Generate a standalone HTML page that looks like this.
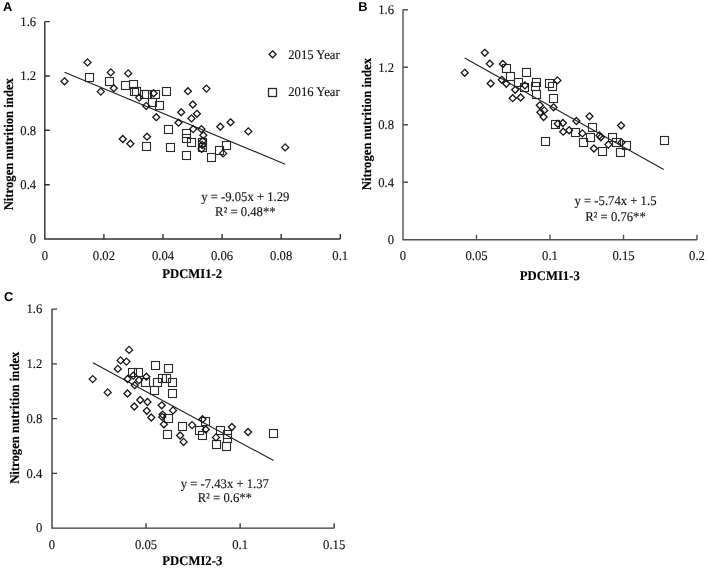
<!DOCTYPE html>
<html><head><meta charset="utf-8"><title>Nitrogen nutrition index vs PDCMI</title>
<style>
html,body{margin:0;padding:0;background:#fff;}
body{width:708px;height:569px;overflow:hidden;}
svg{display:block;will-change:transform;text-rendering:geometricPrecision;}
.s text,text.s{font-family:"Liberation Serif",serif;font-size:13.3px;fill:#111;stroke:#111;stroke-width:0.12px;}
text.b{font-family:"Liberation Serif",serif;font-weight:bold;font-size:13.3px;fill:#000;stroke:#000;stroke-width:0.15px;}
text.L{font-family:"Liberation Sans",sans-serif;font-weight:bold;font-size:12.8px;fill:#000;}
</style></head>
<body>
<svg width="708" height="569" viewBox="0 0 708 569">
<rect width="708" height="569" fill="#fff"/>
<path d="M44.8 21.6V239.05H340.3M44.8 184.69h5M44.8 130.32h5M44.8 75.96h5M44.8 21.6h5M103.9 239.05v-5M163 239.05v-5M222.1 239.05v-5M281.2 239.05v-5M340.3 239.05v-5" fill="none" stroke="#303030" stroke-width="1.4"/>
<g class="s"><text x="36.2" y="243.35" text-anchor="end" textLength="6.34" lengthAdjust="spacingAndGlyphs">0</text><text x="36.2" y="188.99" text-anchor="end" textLength="15.86" lengthAdjust="spacingAndGlyphs">0.4</text><text x="36.2" y="134.62" text-anchor="end" textLength="15.86" lengthAdjust="spacingAndGlyphs">0.8</text><text x="36.2" y="80.26" text-anchor="end" textLength="15.86" lengthAdjust="spacingAndGlyphs">1.2</text><text x="36.2" y="25.9" text-anchor="end" textLength="15.86" lengthAdjust="spacingAndGlyphs">1.6</text><text x="44.8" y="260" text-anchor="middle" textLength="6.34" lengthAdjust="spacingAndGlyphs">0</text><text x="103.9" y="260" text-anchor="middle" textLength="22.20" lengthAdjust="spacingAndGlyphs">0.02</text><text x="163" y="260" text-anchor="middle" textLength="22.20" lengthAdjust="spacingAndGlyphs">0.04</text><text x="222.1" y="260" text-anchor="middle" textLength="22.20" lengthAdjust="spacingAndGlyphs">0.06</text><text x="281.2" y="260" text-anchor="middle" textLength="22.20" lengthAdjust="spacingAndGlyphs">0.08</text><text x="340.3" y="260" text-anchor="middle" textLength="15.86" lengthAdjust="spacingAndGlyphs">0.1</text><text x="245.3" y="201.2" text-anchor="middle" textLength="88.33" lengthAdjust="spacingAndGlyphs">y = -9.05x + 1.29</text><text x="245.3" y="215.8" text-anchor="middle" textLength="60.66" lengthAdjust="spacingAndGlyphs">R² = 0.48**</text></g>
<text class="b" x="192.2" y="278.2" text-anchor="middle" textLength="59.91" lengthAdjust="spacingAndGlyphs">PDCMI1-2</text>
<text class="b" transform="translate(13.2 144.2) rotate(-90)" text-anchor="middle" textLength="132.30" lengthAdjust="spacingAndGlyphs">Nitrogen nutrition index</text>
<text class="L" x="2.9" y="10.8">A</text>
<path d="M64.5 72.3L285.2 164.2" stroke="#202020" stroke-width="1.1"/>
<g fill="none" stroke="#2a2a2a" stroke-width="1.1"><rect x="85.5" y="73.5" width="8" height="8"/><rect x="105.5" y="77.5" width="8" height="8"/><rect x="121.5" y="81.5" width="8" height="8"/><rect x="129.5" y="80.5" width="8" height="8"/><rect x="130.5" y="87.5" width="8" height="8"/><rect x="132.5" y="87.5" width="8" height="8"/><rect x="140.5" y="90.5" width="8" height="8"/><rect x="142.5" y="90.5" width="8" height="8"/><rect x="151.5" y="90.5" width="8" height="8"/><rect x="162.5" y="87.5" width="8" height="8"/><rect x="148.5" y="98.5" width="8" height="8"/><rect x="155.5" y="101.5" width="8" height="8"/><rect x="164.5" y="125.5" width="8" height="8"/><rect x="166.5" y="143.5" width="8" height="8"/><rect x="142.5" y="142.5" width="8" height="8"/><rect x="182.5" y="129.5" width="8" height="8"/><rect x="182.5" y="134.5" width="8" height="8"/><rect x="187.5" y="138.5" width="8" height="8"/><rect x="198.5" y="138.5" width="8" height="8"/><rect x="198.5" y="143.5" width="8" height="8"/><rect x="182.5" y="151.5" width="8" height="8"/><rect x="222.5" y="141.5" width="8" height="8"/><rect x="215.5" y="146.5" width="8" height="8"/><rect x="207.5" y="153.5" width="8" height="8"/></g>
<g fill="none" stroke="#161616" stroke-width="1.3" stroke-linejoin="miter"><path d="M64.5 77.8L68 81.3L64.5 84.8L61 81.3Z"/><path d="M87.5 58.9L91 62.4L87.5 65.9L84 62.4Z"/><path d="M100.8 88.1L104.3 91.6L100.8 95.1L97.3 91.6Z"/><path d="M110.8 68.9L114.3 72.4L110.8 75.9L107.3 72.4Z"/><path d="M113.8 84.7L117.3 88.2L113.8 91.7L110.3 88.2Z"/><path d="M128.2 69.9L131.7 73.4L128.2 76.9L124.7 73.4Z"/><path d="M139.2 94.1L142.7 97.6L139.2 101.1L135.7 97.6Z"/><path d="M146.2 102.4L149.7 105.9L146.2 109.4L142.7 105.9Z"/><path d="M153.6 89.8L157.1 93.3L153.6 96.8L150.1 93.3Z"/><path d="M156.3 113.7L159.8 117.2L156.3 120.7L152.8 117.2Z"/><path d="M178.5 119.2L182 122.7L178.5 126.2L175 122.7Z"/><path d="M181.2 108.8L184.7 112.3L181.2 115.8L177.7 112.3Z"/><path d="M187.9 87.7L191.4 91.2L187.9 94.7L184.4 91.2Z"/><path d="M192.8 101L196.3 104.5L192.8 108L189.3 104.5Z"/><path d="M196.9 110.3L200.4 113.8L196.9 117.3L193.4 113.8Z"/><path d="M191.5 114.9L195 118.4L191.5 121.9L188 118.4Z"/><path d="M193.2 125.6L196.7 129.1L193.2 132.6L189.7 129.1Z"/><path d="M201.4 125.6L204.9 129.1L201.4 132.6L197.9 129.1Z"/><path d="M206.4 85.1L209.9 88.6L206.4 92.1L202.9 88.6Z"/><path d="M220.3 123.2L223.8 126.7L220.3 130.2L216.8 126.7Z"/><path d="M230.5 118.8L234 122.3L230.5 125.8L227 122.3Z"/><path d="M248.3 127.9L251.8 131.4L248.3 134.9L244.8 131.4Z"/><path d="M203.3 131.8L206.8 135.3L203.3 138.8L199.8 135.3Z"/><path d="M202.8 137.5L206.3 141L202.8 144.5L199.3 141Z"/><path d="M202.2 141.5L205.7 145L202.2 148.5L198.7 145Z"/><path d="M201.6 145.4L205.1 148.9L201.6 152.4L198.1 148.9Z"/><path d="M223.1 149.9L226.6 153.4L223.1 156.9L219.6 153.4Z"/><path d="M122.8 135.5L126.3 139L122.8 142.5L119.3 139Z"/><path d="M130.4 140.2L133.9 143.7L130.4 147.2L126.9 143.7Z"/><path d="M147 133.2L150.5 136.7L147 140.2L143.5 136.7Z"/><path d="M285.2 143.9L288.7 147.4L285.2 150.9L281.7 147.4Z"/></g>
<path d="M403 9.8V239.75H697M403 182.26h5M403 124.78h5M403 67.29h5M403 9.8h5M476.5 239.75v-5M550 239.75v-5M623.5 239.75v-5M697 239.75v-5" fill="none" stroke="#505050" stroke-width="1.4"/>
<g class="s"><text x="394" y="244.05" text-anchor="end" textLength="6.34" lengthAdjust="spacingAndGlyphs">0</text><text x="394" y="186.56" text-anchor="end" textLength="15.86" lengthAdjust="spacingAndGlyphs">0.4</text><text x="394" y="129.08" text-anchor="end" textLength="15.86" lengthAdjust="spacingAndGlyphs">0.8</text><text x="394" y="71.59" text-anchor="end" textLength="15.86" lengthAdjust="spacingAndGlyphs">1.2</text><text x="394" y="14.1" text-anchor="end" textLength="15.86" lengthAdjust="spacingAndGlyphs">1.6</text><text x="403" y="260" text-anchor="middle" textLength="6.34" lengthAdjust="spacingAndGlyphs">0</text><text x="476.5" y="260" text-anchor="middle" textLength="22.20" lengthAdjust="spacingAndGlyphs">0.05</text><text x="550" y="260" text-anchor="middle" textLength="15.86" lengthAdjust="spacingAndGlyphs">0.1</text><text x="623.5" y="260" text-anchor="middle" textLength="22.20" lengthAdjust="spacingAndGlyphs">0.15</text><text x="697" y="260" text-anchor="middle" textLength="15.86" lengthAdjust="spacingAndGlyphs">0.2</text><text x="615.5" y="205" text-anchor="middle" textLength="81.98" lengthAdjust="spacingAndGlyphs">y = -5.74x + 1.5</text><text x="615.5" y="220.9" text-anchor="middle" textLength="60.66" lengthAdjust="spacingAndGlyphs">R² = 0.76**</text></g>
<text class="b" x="549.8" y="280.3" text-anchor="middle" textLength="59.91" lengthAdjust="spacingAndGlyphs">PDCMI1-3</text>
<text class="b" transform="translate(370.8 124.1) rotate(-90)" text-anchor="middle" textLength="132.30" lengthAdjust="spacingAndGlyphs">Nitrogen nutrition index</text>
<text class="L" x="358.3" y="11">B</text>
<path d="M464.7 58.1L663.7 169.5" stroke="#202020" stroke-width="1.1"/>
<g fill="none" stroke="#2a2a2a" stroke-width="1.1"><rect x="502.5" y="64.5" width="8" height="8"/><rect x="506.5" y="72.5" width="8" height="8"/><rect x="514.5" y="78.5" width="8" height="8"/><rect x="520.5" y="83.5" width="8" height="8"/><rect x="522.5" y="68.5" width="8" height="8"/><rect x="532.5" y="78.5" width="8" height="8"/><rect x="531.5" y="82.5" width="8" height="8"/><rect x="532.5" y="90.5" width="8" height="8"/><rect x="545.5" y="79.5" width="8" height="8"/><rect x="548.5" y="82.5" width="8" height="8"/><rect x="549.5" y="94.5" width="8" height="8"/><rect x="551.5" y="120.5" width="8" height="8"/><rect x="541.5" y="137.5" width="8" height="8"/><rect x="571.5" y="128.5" width="8" height="8"/><rect x="588.5" y="123.5" width="8" height="8"/><rect x="586.5" y="133.5" width="8" height="8"/><rect x="579.5" y="138.5" width="8" height="8"/><rect x="598.5" y="147.5" width="8" height="8"/><rect x="608.5" y="133.5" width="8" height="8"/><rect x="612.5" y="138.5" width="8" height="8"/><rect x="622.5" y="141.5" width="8" height="8"/><rect x="616.5" y="148.5" width="8" height="8"/><rect x="660.5" y="136.5" width="8" height="8"/></g>
<g fill="none" stroke="#161616" stroke-width="1.3" stroke-linejoin="miter"><path d="M464.7 69.3L468.2 72.8L464.7 76.3L461.2 72.8Z"/><path d="M484.8 49.3L488.3 52.8L484.8 56.3L481.3 52.8Z"/><path d="M489.8 60.2L493.3 63.7L489.8 67.2L486.3 63.7Z"/><path d="M490.7 80L494.2 83.5L490.7 87L487.2 83.5Z"/><path d="M502.9 60.5L506.4 64L502.9 67.5L499.4 64Z"/><path d="M501.8 76.3L505.3 79.8L501.8 83.3L498.3 79.8Z"/><path d="M506.3 80.3L509.8 83.8L506.3 87.3L502.8 83.8Z"/><path d="M515.2 86.3L518.7 89.8L515.2 93.3L511.7 89.8Z"/><path d="M512.7 94.7L516.2 98.2L512.7 101.7L509.2 98.2Z"/><path d="M520.6 94L524.1 97.5L520.6 101L517.1 97.5Z"/><path d="M524.9 81.9L528.4 85.4L524.9 88.9L521.4 85.4Z"/><path d="M539.8 101.8L543.3 105.3L539.8 108.8L536.3 105.3Z"/><path d="M544.2 106.9L547.7 110.4L544.2 113.9L540.7 110.4Z"/><path d="M540.4 108.8L543.9 112.3L540.4 115.8L536.9 112.3Z"/><path d="M543.6 113.5L547.1 117L543.6 120.5L540.1 117Z"/><path d="M553.5 103.8L557 107.3L553.5 110.8L550 107.3Z"/><path d="M557.4 76.9L560.9 80.4L557.4 83.9L553.9 80.4Z"/><path d="M589.5 112.8L593 116.3L589.5 119.8L586 116.3Z"/><path d="M576.4 117.5L579.9 121L576.4 124.5L572.9 121Z"/><path d="M557.8 120.3L561.3 123.8L557.8 127.3L554.3 123.8Z"/><path d="M562.9 119.5L566.4 123L562.9 126.5L559.4 123Z"/><path d="M563.2 128.2L566.7 131.7L563.2 135.2L559.7 131.7Z"/><path d="M569.1 126.8L572.6 130.3L569.1 133.8L565.6 130.3Z"/><path d="M582.4 129.9L585.9 133.4L582.4 136.9L578.9 133.4Z"/><path d="M599.5 131.9L603 135.4L599.5 138.9L596 135.4Z"/><path d="M600.8 133.8L604.3 137.3L600.8 140.8L597.3 137.3Z"/><path d="M593.9 145L597.4 148.5L593.9 152L590.4 148.5Z"/><path d="M621.1 122L624.6 125.5L621.1 129L617.6 125.5Z"/><path d="M608.4 141.1L611.9 144.6L608.4 148.1L604.9 144.6Z"/><path d="M621.5 138.9L625 142.4L621.5 145.9L618 142.4Z"/></g>
<path d="M52 309.1V528.15H334.2M52 473.39h5M52 418.62h5M52 363.86h5M52 309.1h5M146.07 528.15v-5M240.13 528.15v-5M334.2 528.15v-5" fill="none" stroke="#3a3a3a" stroke-width="1.4"/>
<g class="s"><text x="42.4" y="532.45" text-anchor="end" textLength="6.34" lengthAdjust="spacingAndGlyphs">0</text><text x="42.4" y="477.69" text-anchor="end" textLength="15.86" lengthAdjust="spacingAndGlyphs">0.4</text><text x="42.4" y="422.93" text-anchor="end" textLength="15.86" lengthAdjust="spacingAndGlyphs">0.8</text><text x="42.4" y="368.16" text-anchor="end" textLength="15.86" lengthAdjust="spacingAndGlyphs">1.2</text><text x="42.4" y="313.4" text-anchor="end" textLength="15.86" lengthAdjust="spacingAndGlyphs">1.6</text><text x="52" y="548.8" text-anchor="middle" textLength="6.34" lengthAdjust="spacingAndGlyphs">0</text><text x="146.07" y="548.8" text-anchor="middle" textLength="22.20" lengthAdjust="spacingAndGlyphs">0.05</text><text x="240.13" y="548.8" text-anchor="middle" textLength="15.86" lengthAdjust="spacingAndGlyphs">0.1</text><text x="334.2" y="548.8" text-anchor="middle" textLength="22.20" lengthAdjust="spacingAndGlyphs">0.15</text><text x="224.8" y="487.8" text-anchor="middle" textLength="88.33" lengthAdjust="spacingAndGlyphs">y = -7.43x + 1.37</text><text x="224.8" y="502.2" text-anchor="middle" textLength="54.31" lengthAdjust="spacingAndGlyphs">R² = 0.6**</text></g>
<text class="b" x="192.3" y="564.6" text-anchor="middle" textLength="59.91" lengthAdjust="spacingAndGlyphs">PDCMI2-3</text>
<text class="b" transform="translate(18.7 417.7) rotate(-90)" text-anchor="middle" textLength="132.30" lengthAdjust="spacingAndGlyphs">Nitrogen nutrition index</text>
<text class="L" x="4" y="301.3">C</text>
<path d="M92.9 362.7L273.6 460.6" stroke="#202020" stroke-width="1.1"/>
<g fill="none" stroke="#2a2a2a" stroke-width="1.1"><rect x="128.5" y="368.5" width="8" height="8"/><rect x="134.5" y="368.5" width="8" height="8"/><rect x="151.5" y="361.5" width="8" height="8"/><rect x="164.5" y="364.5" width="8" height="8"/><rect x="158.5" y="374.5" width="8" height="8"/><rect x="162.5" y="374.5" width="8" height="8"/><rect x="153.5" y="378.5" width="8" height="8"/><rect x="141.5" y="378.5" width="8" height="8"/><rect x="168.5" y="378.5" width="8" height="8"/><rect x="150.5" y="386.5" width="8" height="8"/><rect x="168.5" y="389.5" width="8" height="8"/><rect x="164.5" y="414.5" width="8" height="8"/><rect x="163.5" y="430.5" width="8" height="8"/><rect x="178.5" y="422.5" width="8" height="8"/><rect x="201.5" y="417.5" width="8" height="8"/><rect x="195.5" y="426.5" width="8" height="8"/><rect x="198.5" y="431.5" width="8" height="8"/><rect x="216.5" y="426.5" width="8" height="8"/><rect x="223.5" y="430.5" width="8" height="8"/><rect x="223.5" y="434.5" width="8" height="8"/><rect x="212.5" y="440.5" width="8" height="8"/><rect x="222.5" y="442.5" width="8" height="8"/><rect x="269.5" y="429.5" width="8" height="8"/></g>
<g fill="none" stroke="#161616" stroke-width="1.3" stroke-linejoin="miter"><path d="M92.7 375.6L96.2 379.1L92.7 382.6L89.2 379.1Z"/><path d="M129.1 346.4L132.6 349.9L129.1 353.4L125.6 349.9Z"/><path d="M120.6 356.9L124.1 360.4L120.6 363.9L117.1 360.4Z"/><path d="M126.5 358.1L130 361.6L126.5 365.1L123 361.6Z"/><path d="M117.8 365.4L121.3 368.9L117.8 372.4L114.3 368.9Z"/><path d="M127.6 375.5L131.1 379L127.6 382.5L124.1 379Z"/><path d="M133.3 372.1L136.8 375.6L133.3 379.1L129.8 375.6Z"/><path d="M139 376.6L142.5 380.1L139 383.6L135.5 380.1Z"/><path d="M134.7 381.7L138.2 385.2L134.7 388.7L131.2 385.2Z"/><path d="M146.4 373.2L149.9 376.7L146.4 380.2L142.9 376.7Z"/><path d="M107.7 388.9L111.2 392.4L107.7 395.9L104.2 392.4Z"/><path d="M127.5 390L131 393.5L127.5 397L124 393.5Z"/><path d="M140.2 396.5L143.7 400L140.2 403.5L136.7 400Z"/><path d="M147.5 398.5L151 402L147.5 405.5L144 402Z"/><path d="M134.3 403L137.8 406.5L134.3 410L130.8 406.5Z"/><path d="M146.8 407.3L150.3 410.8L146.8 414.3L143.3 410.8Z"/><path d="M151.3 414L154.8 417.5L151.3 421L147.8 417.5Z"/><path d="M161.7 401.8L165.2 405.3L161.7 408.8L158.2 405.3Z"/><path d="M173 406.9L176.5 410.4L173 413.9L169.5 410.4Z"/><path d="M162.6 411.1L166.1 414.6L162.6 418.1L159.1 414.6Z"/><path d="M162.2 413.4L165.7 416.9L162.2 420.4L158.7 416.9Z"/><path d="M163.9 420.8L167.4 424.3L163.9 427.8L160.4 424.3Z"/><path d="M192.1 421.6L195.6 425.1L192.1 428.6L188.6 425.1Z"/><path d="M202.5 415.7L206 419.2L202.5 422.7L199 419.2Z"/><path d="M205.8 426L209.3 429.5L205.8 433L202.3 429.5Z"/><path d="M180.1 432L183.6 435.5L180.1 439L176.6 435.5Z"/><path d="M183.6 438.4L187.1 441.9L183.6 445.4L180.1 441.9Z"/><path d="M231.9 423.5L235.4 427L231.9 430.5L228.4 427Z"/><path d="M216 433.9L219.5 437.4L216 440.9L212.5 437.4Z"/><path d="M248.1 428.5L251.6 432L248.1 435.5L244.6 432Z"/></g>
<g fill="none" stroke="#161616" stroke-width="1.3"><path d="M272.6 50.8L276.1 54.3L272.6 57.8L269.1 54.3Z"/></g>
<g fill="none" stroke="#2a2a2a" stroke-width="1.3"><rect x="268.5" y="88.5" width="8" height="8"/></g>
<g class="s"><text x="288.2" y="59.3" textLength="51.47" lengthAdjust="spacingAndGlyphs">2015 Year</text><text x="288.2" y="95.9" textLength="51.47" lengthAdjust="spacingAndGlyphs">2016 Year</text></g>
</svg>
</body></html>
